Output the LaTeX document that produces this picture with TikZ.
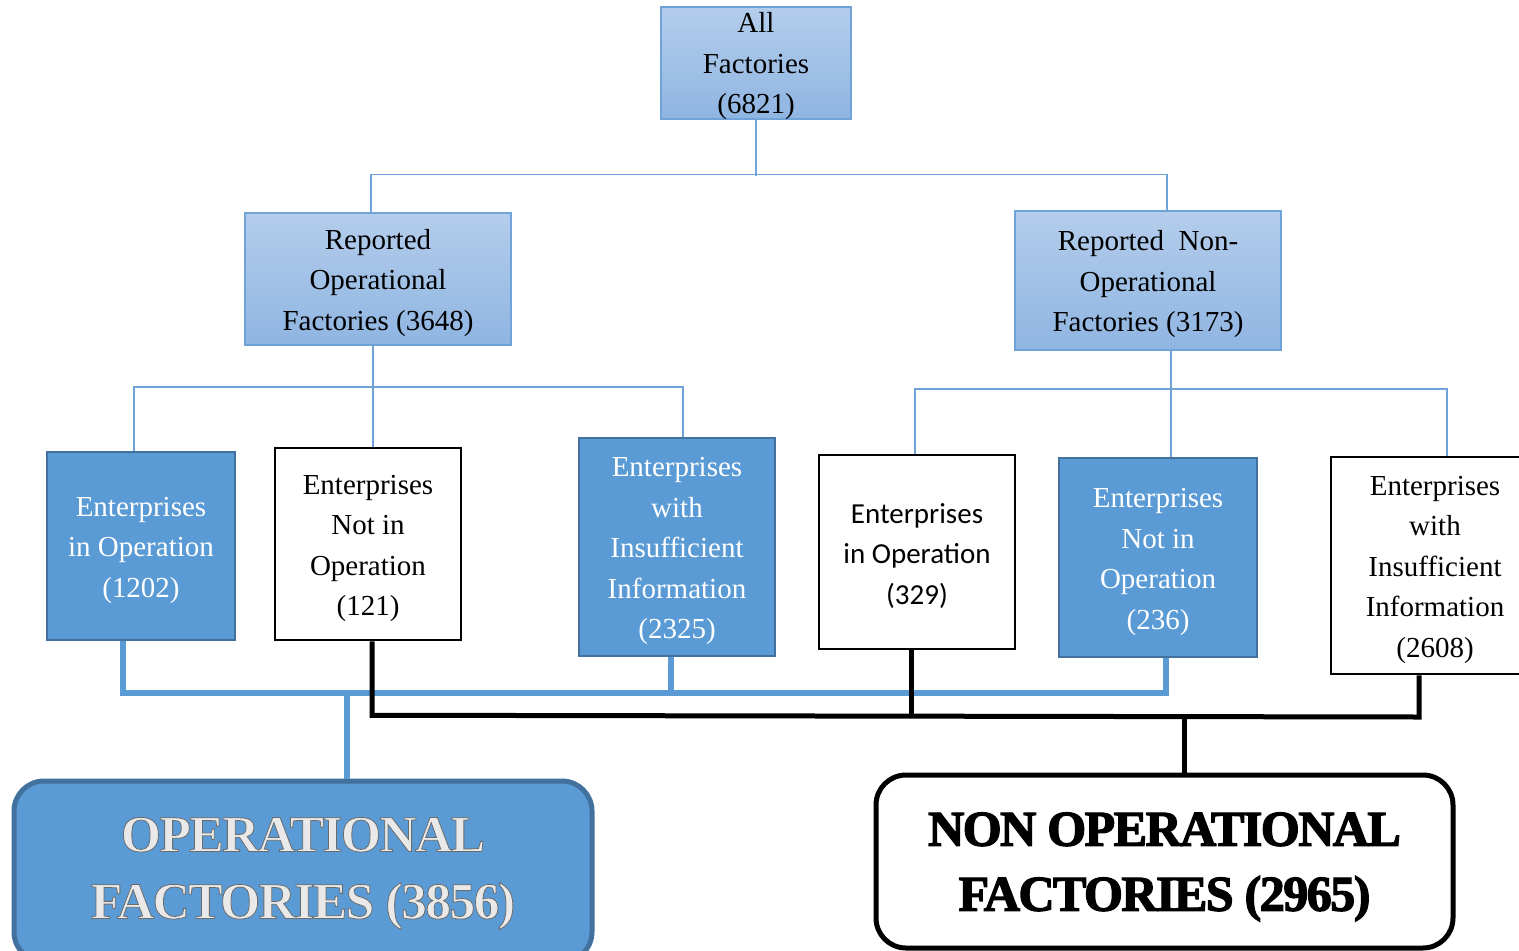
\documentclass[tikz,border=0pt]{standalone}
\usepackage{fontspec}
\setmainfont{Liberation Serif}
\newfontfamily\calibrifont{Carlito}
\usetikzlibrary{calc}
\definecolor{bfill}{HTML}{5B9BD5}
\definecolor{bdark}{HTML}{41719C}
\definecolor{ltop}{HTML}{B4CDEB}
\definecolor{lbot}{HTML}{8FB5E2}
\definecolor{lline}{HTML}{6FA3DA}
\definecolor{opgray}{HTML}{E9E9E9}
\newcommand\embossed[1]{\special{pdf:literal direct 2 Tr 0.8 w 0.42 G}#1\special{pdf:literal direct 0 Tr}}
\newcommand\heavy[1]{\special{pdf:literal direct 2 Tr 1.3 w 0 G}#1\special{pdf:literal direct 0 Tr}}
\newcommand\up{\rule{0pt}{28pt}}
\begin{document}
\begin{tikzpicture}[x=1pt,y=-1pt,
  txt/.style={font=\fontsize{29}{40.5}\selectfont, align=center, inner sep=0pt},
  topbox/.style={txt, draw=lline, line width=1.5pt, top color=ltop, bottom color=lbot},
  bluebox/.style={txt, draw=bdark, line width=2.5pt, fill=bfill, text=white},
  whitebox/.style={txt, draw=black, line width=2.5pt, fill=white},
  bigbox/.style={line width=5pt, rounded corners=30pt, inner sep=0pt, align=center},
  thinline/.style={draw=lline, line width=1.5pt},
  bluethick/.style={draw=bfill, line width=6pt},
  blackthick/.style={draw=black, line width=5pt},
]
\useasboundingbox (0,0) rectangle (1519,951);

% top level
\node[topbox, minimum width=190pt, minimum height=112pt] (all) at (756,63) {All\\Factories\\\smash{(6821)}};
\node[topbox, minimum width=266pt, minimum height=132pt] (rop) at (378,279) {\up Reported\\Operational\\Factories (3648)};
\node[topbox, minimum width=266pt, minimum height=139pt] (rnop) at (1148,280.5) {\up Reported\ \ Non-\\Operational\\Factories (3173)};

% third level
\node[bluebox, minimum width=188pt, minimum height=188pt] (b1) at (141,546) {\up Enterprises\\in Operation\\(1202)};
\node[whitebox, minimum width=186pt, minimum height=192pt] (b2) at (368,544) {\up Enterprises\\Not in\\Operation\\(121)};
\node[bluebox, minimum width=196pt, minimum height=218pt] (b3) at (677,547) {\up Enterprises\\with\\Insufficient\\Information\\(2325)};
\node[whitebox, minimum width=196pt, minimum height=194pt, font=\calibrifont\fontsize{29}{40.5}\selectfont] (b4) at (917,552) {\up Enterprises\\in Operation\\(329)};
\node[bluebox, minimum width=198pt, minimum height=199pt] (b5) at (1158,557.5) {\up Enterprises\\Not in\\Operation\\(236)};
\node[whitebox, minimum width=208pt, minimum height=217pt] (b6) at (1435,565.5) {\up Enterprises\\with\\Insufficient\\Information\\(2608)};

% bottom boxes
\node[bigbox, draw=bdark, fill=bfill, minimum width=578pt, minimum height=181pt,
      font=\fontsize{51.5}{67}\selectfont\bfseries\addfontfeature{LetterSpace=-3}, text=opgray] (op) at (303,871.5)
      {\rule{0pt}{38pt}\embossed{OPERATIONAL\\FACTORIES (3856)}};
\node[bigbox, draw=black, fill=white, minimum width=577pt, minimum height=173pt,
      font=\fontsize{50}{65}\selectfont\bfseries\addfontfeature{LetterSpace=-3}] (nop) at (1164.5,861.5)
      {\rule{0pt}{44pt}\heavy{NON OPERATIONAL\\FACTORIES (2965)}};

% thin connectors
\draw[thinline] (all.south) -- ++(0,56);
\draw[thinline] ([xshift=-7]rop.north) -- ++(0,-38) -| ([xshift=19]rnop.north);
\draw[thinline] ([xshift=-5]rop.south) -- ([xshift=-5]rop.south |- b2.north);
\draw[thinline] ([xshift=-7]b1.north) -- ++(0,-64) -| ([xshift=6]b3.north);
\draw[thinline] ([xshift=23]rnop.south) -- ([xshift=23]rnop.south |- b5.north);
\draw[thinline] ([xshift=-2]b4.north) -- ++(0,-65) -| ([xshift=12]b6.north);

% blue thick connectors
\draw[bluethick] ([xshift=-18]b1.south) -- ++(0,52) -| ([xshift=8]b5.south);
\draw[bluethick] ([xshift=-6]b3.south) -- ++(0,36);
\coordinate (bj) at (347,692);
\draw[bluethick] (bj) -- (bj |- op.north);

% black thick connectors
\draw[blackthick] ([xshift=4]b2.south) -- ++(0,74) -- ([xshift=-16]b6.south |- 0,717) -- ([xshift=-16]b6.south);
\draw[blackthick] ([xshift=-6]b4.south) -- ++(0,66);
\coordinate (kj) at (1184,716);
\draw[blackthick] (kj) -- (kj |- nop.north);
\end{tikzpicture}
\end{document}
